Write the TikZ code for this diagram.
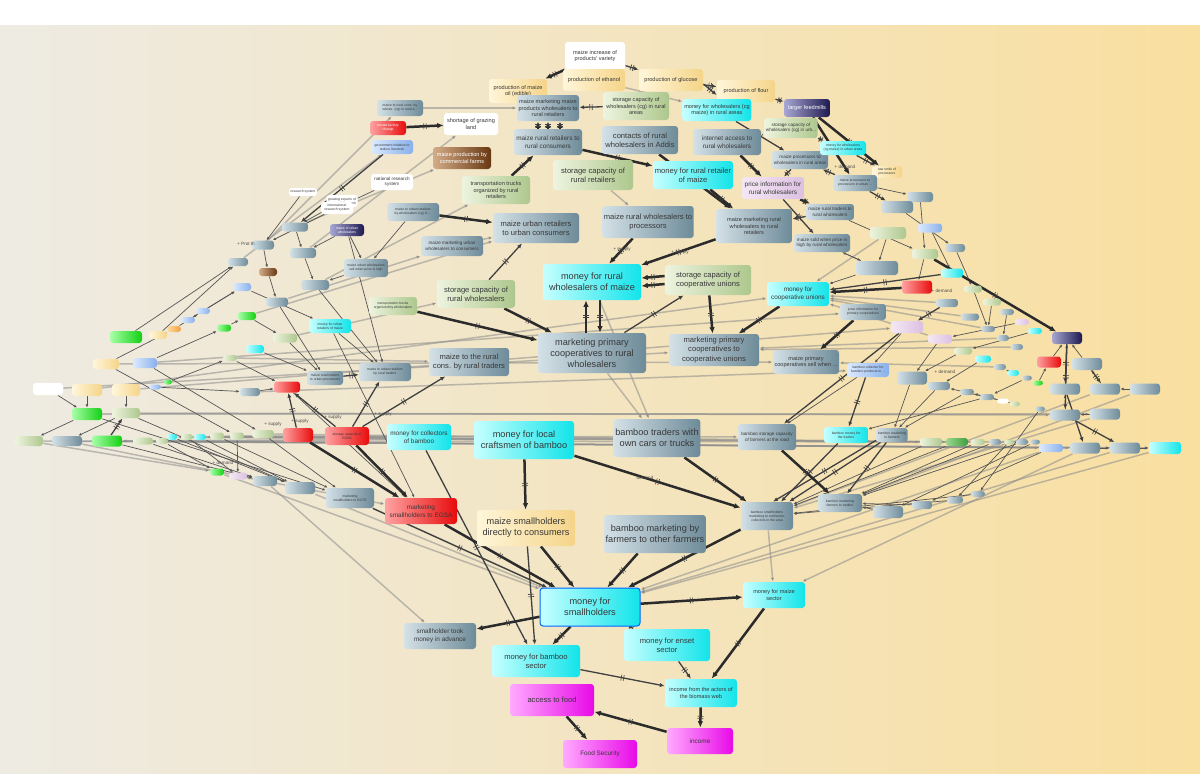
\documentclass[tikz,border=0pt]{standalone}
\usepackage{fontspec}
\setmainfont{Liberation Sans}
\usetikzlibrary{arrows.meta,decorations.markings}
\pgfdeclarelayer{back}
\pgfdeclarelayer{edges}
\pgfsetlayers{back,edges,main}
% palette
\definecolor{bgL}{HTML}{EEEBE3}
\definecolor{bgR}{HTML}{F9DFA0}
\definecolor{stA}{HTML}{D4E1E7}
\definecolor{stB}{HTML}{6E8B99}
\definecolor{cyA}{HTML}{C6FFFF}
\definecolor{cyB}{HTML}{12E4EA}
\definecolor{grA}{HTML}{EEF4DF}
\definecolor{grB}{HTML}{ADC78D}
\definecolor{yeA}{HTML}{FFF6DA}
\definecolor{yeB}{HTML}{F5D488}
\definecolor{rdA}{HTML}{FFA2A2}
\definecolor{rdB}{HTML}{E80C0C}
\definecolor{mgA}{HTML}{FFAAFF}
\definecolor{mgB}{HTML}{E80AE8}
\definecolor{nvA}{HTML}{A8A6D2}
\definecolor{nvB}{HTML}{1E1A50}
\definecolor{brA}{HTML}{D4AC88}
\definecolor{brB}{HTML}{683812}
\definecolor{lvA}{HTML}{F4E8F4}
\definecolor{lvB}{HTML}{DCC0E2}
\definecolor{lbA}{HTML}{DCEAFF}
\definecolor{lbB}{HTML}{88B0EA}
\definecolor{bgA}{HTML}{A8FFA8}
\definecolor{bgB}{HTML}{12D012}
\definecolor{dgA}{HTML}{9CD890}
\definecolor{dgB}{HTML}{3E9E3E}
\definecolor{orA}{HTML}{FFDCA0}
\definecolor{orB}{HTML}{F0A040}
\definecolor{edk}{HTML}{2B2B2B}
\definecolor{egy}{HTML}{8C8C8C}
% text sizes
\newcommand\szA{\fontsize{4.6}{5.5}\selectfont}
\newcommand\szB{\fontsize{3.8}{4.6}\selectfont}
\newcommand\szC{\fontsize{3.2}{3.85}\selectfont}
\newcommand\szD{\fontsize{2.8}{3.35}\selectfont}
\newcommand\szE{\fontsize{2.3}{2.75}\selectfont}
\newcommand\szF{\fontsize{1.7}{2.05}\selectfont}
\begin{document}
\begin{tikzpicture}[x=0.5pt,y=-0.5pt,
  nd/.style={rounded corners=1.5pt,inner sep=0.8pt,align=center,text=black!78},
  bx/.style 2 args={minimum width=#1*0.5pt,minimum height=#2*0.5pt},
  stl/.style={nd,left color=stA,right color=stB},
  cy/.style={nd,left color=cyA,right color=cyB},
  gr/.style={nd,left color=grA,right color=grB},
  ye/.style={nd,left color=yeA,right color=yeB},
  rd/.style={nd,left color=rdA,right color=rdB},
  mg/.style={nd,left color=mgA,right color=mgB},
  nv/.style={nd,left color=nvA,right color=nvB,text=white},
  br/.style={nd,left color=brA,right color=brB,text=white},
  wh/.style={nd,fill=white},
  lv/.style={nd,left color=lvA,right color=lvB},
  lb/.style={nd,left color=lbA,right color=lbB},
  bgn/.style={nd,left color=bgA,right color=bgB},
  dgn/.style={nd,left color=dgA,right color=dgB},
  org/.style={nd,left color=orA,right color=orB},
  tk/.style={postaction={decorate,decoration={markings,
     mark=at position 0.5 with {\draw[-,line width=0.3pt,black!75] (-1.2,-3) -- (-1.2,3) (1.2,-3) -- (1.2,3);}}}},
  ek/.style={draw=edk,line width=1.25pt,-{Latex[length=3.2pt,width=2.8pt]},tk},
  em/.style={draw=edk!90,line width=0.65pt,-{Latex[length=2.4pt,width=2.1pt]},tk},
  es/.style={draw=edk!80,line width=0.35pt,-{Latex[length=1.6pt,width=1.4pt]}},
  eg/.style={draw=egy,line width=0.75pt,draw opacity=0.55,-{Latex[length=2pt,width=1.8pt]}},
  lab/.style={font=\szE,text=black!70,inner sep=0.3pt}]

\useasboundingbox (0,0) rectangle (1200,773);
\begin{pgfonlayer}{back}
  \fill[white] (0,0) rectangle (1200,773);
  \shade[left color=bgL,right color=bgR] (0,25) rectangle (1200,773);
\end{pgfonlayer}

% ---------- upper part: maize value chain ----------
\node[wh,bx={60}{28},font=\szD] (inc) at (595,56) {maize increase of\\products' variety};
\node[ye,bx={58}{24},font=\szD] (oil) at (518,91) {production of maize\\oil (edible)};
\node[ye,bx={62}{22},font=\szD] (eth) at (594,80) {production of ethanol};
\node[ye,bx={64}{22},font=\szD] (glu) at (671,80) {production of glucose};
\node[ye,bx={58}{22},font=\szD] (flo) at (746,91) {production of flour};
\node[nv,bx={46}{18},font=\szD] (feed) at (807,108) {larger feedmills};
\node[stl,bx={62}{26},font=\szD] (mmw) at (548,108) {maize marketing maize\\products wholesalers to\\rural retailers};
\node[gr,bx={66}{28},font=\szD] (stw) at (636,106) {storage capacity of\\wholesalers (cg) in rural\\areas};
\node[cy,bx={64}{22},font=\szD] (mwr) at (717,110) {money for wholesalers (cg\\maize) in rural areas};
\node[gr,bx={52}{20},font=\szE] (stu) at (791,128) {storage capacity of\\wholesalers (cg) in urb...};
\node[stl,bx={46}{16},font=\szF] (mrc) at (400,108) {maize to rural cons. by\\whoes. (cg) in rural a...};
\node[wh,bx={54}{22},font=\szD] (sgl) at (471,124) {shortage of grazing\\land};
\node[rd,bx={36}{14},font=\szF,text=white] (pfc) at (388,128) {private factory\\change};
\node[lb,bx={42}{14},font=\szF] (gov) at (392,147) {government initiative to\\reduce livestock};
\node[br,bx={58}{22},font=\szD] (mpc) at (462,158) {maize production by\\commercial farms};
\node[stl,bx={68}{26},font=\szC] (rrc) at (548,142) {maize rural retailers to\\rural consumers};
\node[stl,bx={76}{28},font=\szB] (con) at (640,140) {contacts of rural\\wholesalers in Addis};
\node[stl,bx={68}{26},font=\szC] (int) at (727,142) {internet access to\\rural wholesalers};
\node[cy,bx={80}{28},font=\szB] (mrr) at (693,175) {money for rural retailer\\of maize};
\node[gr,bx={80}{30},font=\szB] (scr) at (593,175) {storage capacity of\\rural retailers};
\node[gr,bx={68}{28},font=\szD] (ttr) at (496,190) {transportation trucks\\organized by rural\\retailers};
\node[wh,bx={30}{12},font=\szF] (gex) at (342,201) {growing exports of\\meat and livestock};
\node[wh,bx={42}{16},font=\szE] (nrs) at (392,182) {national research\\system};
\node[wh,bx={26}{8},font=\szF] (rsy) at (303,192) {research system};
\node[wh,bx={32}{12},font=\szF] (irs) at (337,208) {international\\research system};
\node[stl,bx={52}{18},font=\szF] (mur) at (413,212) {maize to urban retailers\\by wholesalers (cg) in ...};
\node[stl,bx={86}{30},font=\szB] (urc) at (536,228) {maize urban retailers\\to urban consumers};
\node[stl,bx={90}{32},font=\szB] (rwp) at (648,222) {maize rural wholesalers to\\processors};
\node[stl,bx={76}{34},font=\szD] (mrw) at (754,226) {maize marketing rural\\wholesalers to rural\\retailers};
\node[lv,bx={62}{22},font=\szC] (pir) at (773,188) {price information for\\rural wholesalers};
\node[stl,bx={56}{18},font=\szE] (mpw) at (800,160) {maize processors to\\wholesalers in rural areas};
\node[cy,bx={46}{14},font=\szF] (mwu) at (843,148) {money for wholesalers\\(cg maize) in urban areas};
\node[ye,bx={30}{12},font=\szF] (rsp) at (887,172) {raw smile of\\processors};
\node[stl,bx={44}{16},font=\szF] (mpp) at (855,183) {maize processors to\\processors in urban ...};
\node[stl,bx={48}{16},font=\szE] (rtw) at (830,212) {maize rural traders to\\rural wholesalers};
\node[stl,bx={56}{18},font=\szE] (msh) at (822,243) {maize sold when price is\\high by rural wholesalers};
\node[stl,bx={62}{20},font=\szE] (muw) at (452,246) {maize marketing urban\\wholesalers to consumers};
\node[nv,bx={34}{12},font=\szF] (mow) at (347,230) {maize of urban\\wholesalers};
\node[stl,bx={44}{18},font=\szF] (mus) at (366,268) {maize urban wholesalers\\sell when price is high};
\node[cy,bx={98}{36},font=\szA] (mrwm) at (592,282) {money for rural\\wholesalers of maize};
\node[gr,bx={86}{30},font=\szB] (scu) at (708,280) {storage capacity of\\cooperative unions};
\node[gr,bx={78}{28},font=\szB] (srw) at (476,294) {storage capacity of\\rural wholesalers};
\node[gr,bx={48}{18},font=\szF] (ttw) at (393,306) {transportation trucks\\organized by wholesalers};
\node[cy,bx={62}{24},font=\szC] (mcu) at (798,294) {money for\\cooperative unions};
\node[stl,bx={108}{40},font=\szA] (mpr) at (592,353) {marketing primary\\cooperatives to rural\\wholesalers};
\node[stl,bx={90}{32},font=\szB] (mpu) at (714,350) {marketing primary\\cooperatives to\\cooperative unions};
\node[stl,bx={80}{28},font=\szB] (mrt) at (469,362) {maize to the rural\\cons. by rural traders};
\node[stl,bx={52}{18},font=\szF] (murt) at (385,372) {maize to urban retailers\\by rural traders};
\node[stl,bx={36}{14},font=\szF] (mrtu) at (325,378) {maize rural traders\\to urban processors};
\node[stl,bx={60}{24},font=\szD] (mps) at (806,362) {maize primary\\cooperatives sell when ...};
\node[stl,bx={46}{16},font=\szF] (pip) at (863,312) {price information for\\primary cooperatives};

% ---------- lower part: bamboo, money, food security ----------
\node[cy,bx={100}{38},font=\szA] (mlc) at (524,440) {money for local\\craftsmen of bamboo};
\node[stl,bx={86}{38},font=\szA] (btc) at (657,438) {bamboo traders with\\own cars or trucks};
\node[stl,bx={58}{26},font=\szE] (bsc) at (767,437) {bamboo storage capacity\\of farmers at the road};
\node[cy,bx={64}{26},font=\szC] (mcb) at (419,437) {money for collectors\\of bamboo};
\node[cy,bx={44}{16},font=\szF] (bmt) at (846,435) {bamboo money for\\the traders};
\node[stl,bx={30}{14},font=\szF] (bmf) at (892,435) {bamboo marketing\\to farmers};
\node[stl,bx={44}{18},font=\szF] (bft) at (840,503) {bamboo marketing\\farmers to traders};
\node[stl,bx={52}{28},font=\szF] (bsm) at (767,516) {bamboo smallholders\\marketing to craftsmen,\\collectors in the area};
\node[ye,bx={98}{36},font=\szA] (msd) at (526,528) {maize smallholders\\directly to consumers};
\node[stl,bx={98}{38},font=\szA] (bmo) at (655,534) {bamboo marketing by\\farmers to other farmers};
\node[rd,bx={72}{26},font=\szC] (egsa) at (421,511) {marketing\\smallholders to EGSA};
\node[stl,bx={48}{20},font=\szF] (egte) at (350,498) {marketing\\smallholders to EGTE};
\node[rd,bx={44}{18},font=\szF] (sce) at (347,436) {storage capacity of\\EGSA};
\node[rd,bx={30}{14}] (rd2) at (298,435) {};
\node[cy,bx={100}{38},font=\szA,draw=blue!60!cyan,line width=0.5pt] (msm) at (590,607) {money for\\smallholders};
\node[cy,bx={62}{26},font=\szD] (mms) at (774,595) {money for maize\\sector};
\node[stl,bx={72}{26},font=\szC] (smta) at (440,636) {smallholder took\\money in advance};
\node[cy,bx={88}{32},font=\szB] (mbs) at (536,661) {money for bamboo\\sector};
\node[cy,bx={86}{32},font=\szB] (mes) at (667,645) {money for enset\\sector};
\node[cy,bx={72}{28},font=\szD] (iab) at (701,693) {income from the actors of\\the biomass web};
\node[mg,bx={84}{32},font=\szB] (atf) at (552,700) {access to food};
\node[mg,bx={74}{28},font=\szC] (fs) at (600,754) {Food Security};
\node[mg,bx={66}{26},font=\szC] (inco) at (700,741) {income};

% ---------- left cluster ----------
\node[stl,bx={26}{9}] (L1) at (295,227) {};
\node[stl,bx={22}{9}] (L2) at (263,245) {};
\node[stl,bx={26}{10}] (L3) at (303,253) {};
\node[stl,bx={20}{8}] (L4) at (238,262) {};
\node[br,bx={18}{8}] (L5) at (268,272) {};
\node[stl,bx={28}{10}] (L6) at (315,285) {};
\node[lb,bx={18}{8}] (L7) at (242,287) {};
\node[stl,bx={22}{9}] (L8) at (277,302) {};
\node[bgn,bx={18}{8}] (L9) at (247,316) {};
\node[bgn,bx={14}{7}] (L10) at (224,328) {};
\node[lb,bx={14}{6}] (L11) at (203,311) {};
\node[lb,bx={14}{6}] (L12) at (188,320) {};
\node[org,bx={14}{6}] (L13) at (174,329) {};
\node[ye,bx={18}{8}] (L14) at (158,335) {};
\node[bgn,bx={32}{12}] (L15) at (126,337) {};
\node[cy,bx={42}{14},font=\szF] (L16) at (330,326) {money for urban\\retailers of maize};
\node[gr,bx={24}{9}] (L17) at (285,338) {};
\node[cy,bx={18}{8}] (L18) at (255,349) {};
\node[ye,bx={26}{10}] (L19) at (106,364) {};
\node[lb,bx={24}{10}] (L20) at (145,363) {};
\node[gr,bx={14}{6}] (L21) at (230,358) {};
\node[wh,bx={30}{12}] (L22) at (48,389) {};
\node[ye,bx={30}{12}] (L23) at (87,390) {};
\node[ye,bx={28}{12}] (L24) at (126,390) {};
\node[bgn,bx={8}{5}] (L25) at (168,382) {};
\node[lb,bx={12}{5}] (L26) at (155,387) {};
\node[stl,bx={20}{8}] (L27) at (250,392) {};
\node[bgn,bx={30}{12}] (L28) at (87,414) {};
\node[gr,bx={28}{10}] (L29) at (126,413) {};
\node[rd,bx={26}{11}] (L30) at (287,387) {};
\node[gr,bx={28}{10}] (L31) at (29,441) {};
\node[stl,bx={30}{10}] (L32) at (67,441) {};
\node[bgn,bx={30}{11}] (L33) at (107,441) {};
\node[gr,bx={20}{7}] (L34) at (143,441) {};
\node[gr,bx={12}{6}] (L35) at (162,441) {};
\node[cy,bx={10}{6}] (L36) at (172,437) {};
\node[gr,bx={12}{6}] (L37) at (187,437) {};
\node[cy,bx={12}{6}] (L38) at (200,437) {};
\node[gr,bx={14}{7}] (L39) at (217,436) {};
\node[gr,bx={14}{7}] (L40) at (237,436) {};
\node[gr,bx={22}{8}] (L41) at (263,434) {};
\node[bgn,bx={14}{7}] (L42) at (217,472) {};
\node[lv,bx={18}{7}] (L43) at (238,476) {};
\node[stl,bx={24}{10}] (L44) at (265,481) {};
\node[stl,bx={30}{12}] (L45) at (300,488) {};

% ---------- right cluster ----------
\node[stl,bx={26}{10}] (T1) at (920,197) {};
\node[stl,bx={32}{12}] (T2) at (897,207) {};
\node[gr,bx={36}{12}] (T3) at (888,233) {};
\node[lb,bx={24}{9}] (T4) at (930,228) {};
\node[gr,bx={26}{10}] (T5) at (925,254) {};
\node[stl,bx={20}{8}] (T6) at (955,248) {};
\node[stl,bx={42}{14}] (R1) at (877,268) {};
\node[cy,bx={22}{9}] (R2) at (952,273) {};
\node[rd,bx={30}{13}] (R3) at (917,287) {};
\node[gr,bx={18}{7}] (R4) at (973,289) {};
\node[gr,bx={18}{7}] (R5) at (992,302) {};
\node[stl,bx={22}{8}] (R6) at (947,303) {};
\node[stl,bx={18}{7}] (R7) at (970,317) {};
\node[stl,bx={14}{6}] (R8) at (1007,312) {};
\node[stl,bx={14}{6}] (R9) at (988,329) {};
\node[lv,bx={14}{6}] (R10) at (1022,322) {};
\node[cy,bx={14}{6}] (R11) at (1035,331) {};
\node[stl,bx={12}{6}] (R12) at (1003,338) {};
\node[nv,bx={30}{12}] (R13) at (1067,338) {};
\node[lv,bx={32}{12}] (R14) at (907,327) {};
\node[lv,bx={24}{9}] (R15) at (940,339) {};
\node[gr,bx={18}{7}] (R16) at (963,351) {};
\node[stl,bx={12}{6}] (R17) at (1017,347) {};
\node[cy,bx={16}{7}] (R18) at (983,359) {};
\node[rd,bx={24}{11}] (R19) at (1049,362) {};
\node[stl,bx={30}{12}] (R20) at (1087,364) {};
\node[stl,bx={12}{6}] (R21) at (1000,367) {};
\node[lb,bx={42}{14},font=\szF] (R22) at (868,370) {bamboo collector for\\bamboo products in ...};
\node[stl,bx={30}{13}] (R23) at (912,378) {};
\node[cy,bx={12}{6}] (R24) at (1013,373) {};
\node[stl,bx={10}{5}] (R25) at (1027,378) {};
\node[bgn,bx={10}{5}] (R26) at (1038,383) {};
\node[stl,bx={22}{8}] (R27) at (939,386) {};
\node[stl,bx={14}{6}] (R28) at (967,392) {};
\node[stl,bx={14}{6}] (R29) at (987,397) {};
\node[wh,bx={12}{5}] (R30) at (1003,401) {};
\node[gr,bx={10}{5}] (R31) at (1015,404) {};
\node[stl,bx={30}{11}] (R32) at (1065,389) {};
\node[stl,bx={30}{11}] (R33) at (1105,389) {};
\node[stl,bx={30}{11}] (R34) at (1145,389) {};
\node[stl,bx={10}{5}] (R35) at (1040,409) {};
\node[stl,bx={30}{11}] (R36) at (1065,415) {};
\node[stl,bx={30}{11}] (R37) at (1105,414) {};
\node[gr,bx={22}{8}] (R38) at (931,442) {};
\node[dgn,bx={22}{8}] (R39) at (957,442) {};
\node[gr,bx={14}{6}] (R40) at (978,442) {};
\node[stl,bx={12}{6}] (R41) at (995,442) {};
\node[gr,bx={10}{5}] (R42) at (1009,442) {};
\node[stl,bx={12}{6}] (R43) at (1022,442) {};
\node[stl,bx={10}{5}] (R44) at (1035,442) {};
\node[lb,bx={24}{8}] (R45) at (1051,448) {};
\node[stl,bx={30}{11}] (R46) at (1085,448) {};
\node[stl,bx={30}{11}] (R47) at (1125,448) {};
\node[cy,bx={32}{12}] (R48) at (1165,448) {};
\node[stl,bx={30}{12}] (R49) at (888,512) {};
\node[stl,bx={20}{8}] (R50) at (922,505) {};
\node[stl,bx={16}{7}] (R51) at (955,500) {};
\node[stl,bx={14}{6}] (R52) at (978,494) {};

% ---------- polarity labels ----------
\node[lab] (s1) at (622,249) {+ supply};
\node[lab] (s2) at (680,252) {+ supply};
\node[lab] (s3) at (273,424) {+ supply};
\node[lab] (s4) at (300,421) {+ supply};
\node[lab] (s5) at (333,417) {+ supply};
\node[lab] (s6) at (383,414) {+ supply};
\node[lab] (d1) at (845,167) {+ demand};
\node[lab] (d2) at (942,291) {+ demand};
\node[lab] (d3) at (945,372) {+ demand};
\node[lab] (d4) at (223,463) {+ demand};
\node[lab] (d5) at (645,478) {demand};
\node[lab] (p1) at (246,244) {+ Prot th};

\begin{pgfonlayer}{edges}
% long faint links across the web
\foreach \a/\b in {L31/R48,L32/R47,L33/R46,L34/R45,L28/R37,L29/R36,L35/R44,L39/R38,
  L40/bsc,L41/R39,L37/R40,L22/mpu,L23/mcu,L24/R14,L19/mps,L20/pip,L27/R22,
  R48/msm,R47/msm,R46/mms,R45/msm,R37/bsm,R34/bft,R33/bsm,
  L44/smta,L45/msm,L42/msm,L43/egsa,egte/msm,L31/L42,L32/L44,
  L3/sgl,L1/mpc,L6/ttr,L8/muw,L2/mrc,L4/gov,L9/urc,L17/srw,L21/mrt,
  mpr/btc,mrwm/btc,scr/rwp,eth/mwr,mrc/mmw,muw/urc,bsm/mms,T3/mcu,R6/mcu,R7/mcu,R9/mcu,
  R12/mpu,R21/mps,R17/mpu,R15/mcu,mcb/L38,mlc/L36,btc/L33}
  \draw[eg] (\a) -- (\b);
% thin links inside the clusters
\foreach \a/\b in {L15/L4,L14/L4,L13/L11,L12/L7,L11/L7,L10/L9,L20/L10,L19/L13,
  L22/L28,L23/L28,L24/L29,L26/L27,L25/L21,L28/L31,L29/L32,L33/L44,L34/L44,
  L36/L45,L38/L45,L39/egte,L41/egte,L40/L43,L35/L42,L37/L43,L29/L45,L28/egte,
  L18/mrtu,L16/murt,L17/mrtu,L7/L16,L9/L17,L5/L8,L2/L5,L1/L3,L3/L6,L6/murt,L8/mrtu,
  L30/egsa,L27/L30,L21/L30,L20/L41,L19/L40,
  gex/L1,nrs/irs,irs/L2,rsy/L2,mow/L3,mow/mus,mus/L6,mur/mus,mow/murt,L16/egsa,
  T1/T5,T2/T6,T3/R1,T4/R2,T6/R4,mpp/T1,rtw/T5,msh/R1,R1/mcu,
  R14/R22,R15/R23,R16/R23,R18/R27,R4/R9,R5/R9,R8/R12,R10/R15,R11/R16,
  R23/bmf,R27/bmf,R28/bmf,R29/bmt,R30/R27,R31/R28,R24/R21,R25/R29,R26/R19,
  R19/R13,R20/R13,R32/R13,R33/R20,R34/R33,R36/R32,R37/R36,R47/R48,R46/R47,
  R38/bsm,R39/bsm,R40/bft,R41/bft,R43/bft,R44/R49,R45/R50,R42/R51,R35/R52,
  R49/bft,R50/bft,R51/bsm,R52/bsm,R22/bsc,R1/msh,T5/R3}
  \draw[es] (\a) -- (\b);
% medium links
\draw[em] (inc) -- (glu);
\draw[em] (glu) -- (flo);
\draw[em] ([yshift=-2pt]glu.east) -- ([yshift=-2pt]flo.west);
\draw[em] (flo) -- (feed);
\draw[em] (stw) -- (mmw);
\draw[em] (mwr) -- (mpw);
\draw[em] (stu) -- (mwu);
\draw[em] (mpw) -- (pir);
\draw[em] (pir) -- (msh);
\draw[em] (rtw) -- (mrw);
\draw[em] (mpp) -- (mpw);
\draw[em] (mwu) -- (rsp);
\draw[em] (srw) -- (urc);
\draw[em] (mpr) -- (scu);
\draw[em] (sce) -- (mrt);
\draw[em] (sce) -- (murt);
\draw[em] (mrtu) -- (murt);
\draw[em] (gov) -- (L1);
\draw[em] (msd) -- (mbs);
\draw[em] (mcb) -- (mbs);
\draw[em] (msm) -- (mes);
\draw[em] (mes) -- (iab);
\draw[em] (mbs) -- (iab);
\draw[em] (bmt) -- (bsm);
\draw[em] (bmf) -- (bft);
\draw[em] (bmf) -- (bsm);
\draw[em] ([yshift=1pt]bmf.south west) -- ([xshift=3pt]bsm.north);
\draw[em] (R22) -- (bmt);
\draw[em] (R13) -- (R36);
\draw[em] (R13) -- (R32);
\draw[em] (R20) -- (R33);
\draw[em] (R32) -- (R46);
\draw[em] (R36) -- (R47);
\draw[em] (R14) -- (bsc);
\draw[em] (mpp) -- (T2);
\draw[em] (R6) -- (R14);
\draw[em] (R2) -- (mcu);
\draw[em] (egte) -- (msm);
\draw[em] (rd2) -- (L30);
\draw[em] (sce) -- (L30);
\draw[em] (L33) -- (L29);
% heavy links
\draw[ek] (inc) -- (oil);
\draw[ek] ([xshift=-5pt]rrc.north) -- ([xshift=-5pt]mmw.south);
\draw[ek] (rrc.north) -- (mmw.south);
\draw[ek] ([xshift=6pt]rrc.north) -- ([xshift=6pt]mmw.south);
\draw[ek] (rrc) -- (mrr);
\draw[ek] (con) -- (mrw);
\draw[ek] (int) -- (pir);
\draw[ek] (feed) -- (rsp);
\draw[ek] (feed) -- (mpp);
\draw[ek] (mrr) -- (mrw);
\draw[ek] (pir) -- (rtw);
\draw[ek] (ttr) -- (rrc);
\draw[ek] (mur) -- (urc);
\draw[ek] (pfc) -- (sgl);
\draw[ek] (rwp) -- (mrwm);
\draw[ek] (mrw) -- (mrwm);
\draw[ek] ([yshift=2pt]scu.west) -- ([yshift=2pt]mrwm.east);
\draw[ek] ([yshift=-2pt]scu.west) -- ([yshift=-2pt]mrwm.east);
\draw[ek] ([xshift=-3pt]mpr.north) -- ([xshift=-3pt]mrwm.south);
\draw[ek] ([xshift=4pt]mrwm.south) -- ([xshift=4pt]mpr.north);
\draw[ek] (srw) -- (mpr);
\draw[ek] (ttw) -- (mpr);
\draw[ek] (scu) -- (mpu);
\draw[ek] (mcu) -- (mpu);
\draw[ek] (R3) -- (mcu);
\draw[ek] (pip) -- (mps);
\draw[ek] (T5) -- (R13);
\draw[ek] (mlc) -- (bsm);
\draw[ek] (btc) -- (bsm);
\draw[ek] (mlc) -- (msd);
\draw[ek] (bsc) -- (bft);
\draw[ek] (sce) -- (egsa);
\draw[ek] (rd2) -- (egsa);
\draw[ek] (egsa) -- (msm);
\draw[ek] (msd) -- (msm);
\draw[ek] (bmo) -- (msm);
\draw[ek] (bsm) -- (msm);
\draw[ek] (msm) -- (mms);
\draw[ek] (msm) -- (smta);
\draw[ek] (msm) -- (mbs);
\draw[ek] (mms) -- (iab);
\draw[ek] (iab) -- (inco);
\draw[ek] (inco) -- (atf);
\draw[ek] (atf) -- (fs);
\end{pgfonlayer}
\end{tikzpicture}
\end{document}
